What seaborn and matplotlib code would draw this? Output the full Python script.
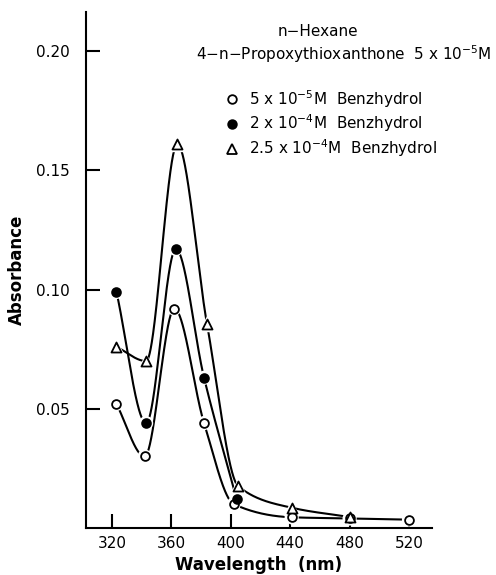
import numpy as np
import pandas as pd
import matplotlib
matplotlib.use("Agg")
import matplotlib.pyplot as plt
import seaborn as sns
from matplotlib.lines import Line2D

# ---- data ----
wl_low = [323, 342, 362, 382, 402, 441, 480, 520]
abs_low = [0.052, 0.030, 0.092, 0.044, 0.010, 0.0045, 0.004, 0.0035]
wl_mid = [323, 343, 363, 382, 404]
abs_mid = [0.099, 0.044, 0.117, 0.063, 0.012]
wl_high = [323, 343, 364, 384, 405, 441, 480]
abs_high = [0.076, 0.070, 0.161, 0.0855, 0.0175, 0.0085, 0.0046]

series_labels = ["5 x 10$^{-5}$M  Benzhydrol",
                 "2 x 10$^{-4}$M  Benzhydrol",
                 "2.5 x 10$^{-4}$M  Benzhydrol"]
x_ticks = [320, 360, 400, 440, 480, 520]
y_ticks = [0.05, 0.10, 0.15, 0.20]
y_tick_labels = ["0.05", "0.10", "0.15", "0.20"]
title1 = "n\u2212Hexane"
title2 = "4\u2212n\u2212Propoxythioxanthone  5 x 10$^{-5}$M"


def pchip_curve(x, y, n=300):
    x = np.asarray(x, float)
    y = np.asarray(y, float)
    h = np.diff(x)
    d = np.diff(y) / h
    m = np.zeros_like(y)
    for k in range(1, len(x) - 1):
        if d[k - 1] * d[k] > 0:
            w1 = 2 * h[k] + h[k - 1]
            w2 = h[k] + 2 * h[k - 1]
            m[k] = (w1 + w2) / (w1 / d[k - 1] + w2 / d[k])
    m[0] = d[0]
    m[-1] = d[-1]
    xs, ys = [], []
    for k in range(len(x) - 1):
        t = np.linspace(0, 1, n, endpoint=(k == len(x) - 2))
        h00 = 2 * t**3 - 3 * t**2 + 1
        h10 = t**3 - 2 * t**2 + t
        h01 = -2 * t**3 + 3 * t**2
        h11 = t**3 - t**2
        xs.append(x[k] + t * h[k])
        ys.append(h00 * y[k] + h10 * h[k] * m[k] + h01 * y[k + 1] + h11 * h[k] * m[k + 1])
    return np.concatenate(xs), np.concatenate(ys)


sns.set_theme(style="white")
plt.rcParams["font.family"] = ["DejaVu Sans"]
plt.rcParams["mathtext.fontset"] = "dejavusans"
plt.rcParams["text.color"] = "black"

fig = plt.figure(figsize=(4.96, 5.75), dpi=100)
ax = fig.add_axes([86 / 496, 1 - 528 / 575, (432 - 86) / 496, (528 - 12) / 575])

styles = [
    dict(marker="o", face="white", s=40),
    dict(marker="o", face="black", s=40),
    dict(marker="^", face="white", s=52),
]
data = [(wl_low, abs_low), (wl_mid, abs_mid), (wl_high, abs_high)]

for (wx, wy), st in zip(data, styles):
    cx, cy = pchip_curve(wx, wy)
    sns.lineplot(x=cx, y=cy, ax=ax, color="black", linewidth=1.5,
                 sort=False, estimator=None, zorder=2)
for (wx, wy), st in zip(data, styles):
    df = pd.DataFrame({"wl": wx, "a": wy})
    sns.scatterplot(data=df, x="wl", y="a", ax=ax, marker=st["marker"],
                    s=st["s"] * 2.6, color="white", edgecolor="none",
                    linewidth=0, zorder=3, legend=False)
for (wx, wy), st in zip(data, styles):
    df = pd.DataFrame({"wl": wx, "a": wy})
    sns.scatterplot(data=df, x="wl", y="a", ax=ax, marker=st["marker"],
                    s=st["s"], facecolor=st["face"], edgecolor="black",
                    linewidth=1.3, zorder=4, legend=False)

ax.set_xlim(302.5, 535.5)
ax.set_ylim(0, 0.2164)
ax.set_xticks(x_ticks)
ax.set_xticklabels([str(v) for v in x_ticks])
ax.set_yticks(y_ticks)
ax.set_yticklabels(y_tick_labels)
for sp in ["top", "right"]:
    ax.spines[sp].set_visible(False)
for sp in ["left", "bottom"]:
    ax.spines[sp].set_color("black")
    ax.spines[sp].set_linewidth(1.5)
ax.tick_params(axis="both", direction="in", length=10, width=1.5,
               colors="black", labelsize=11, labelcolor="black")
ax.tick_params(axis="y", pad=12, left=True)
ax.tick_params(axis="x", pad=6, bottom=True)
ax.set_xlabel("Wavelength  (nm)", fontsize=12, fontweight="bold", labelpad=3, color="black")
ax.set_ylabel("Absorbance", fontsize=12, fontweight="bold", labelpad=7, color="black")
ax.grid(False)

fig.text(318 / 496, 1 - 32 / 575, title1, ha="center", va="center", fontsize=11, color="black")
fig.text(344 / 496, 1 - 54 / 575, title2, ha="center", va="center", fontsize=11, color="black")

handles = [
    Line2D([], [], linestyle="none", marker="o", ms=6.2, mfc="white", mec="black", mew=1.3),
    Line2D([], [], linestyle="none", marker="o", ms=6.2, mfc="black", mec="black", mew=1.3),
    Line2D([], [], linestyle="none", marker="^", ms=7, mfc="white", mec="black", mew=1.3),
]
leg = ax.legend(handles, series_labels, loc="upper left",
                bbox_to_anchor=(226 / 496, 1 - 88 / 575), bbox_transform=fig.transFigure,
                frameon=False, fontsize=11, handlelength=0.8, handletextpad=0.7,
                labelspacing=0.2, borderpad=0, borderaxespad=0, labelcolor="black")

fig.savefig("out.png", dpi=100)
